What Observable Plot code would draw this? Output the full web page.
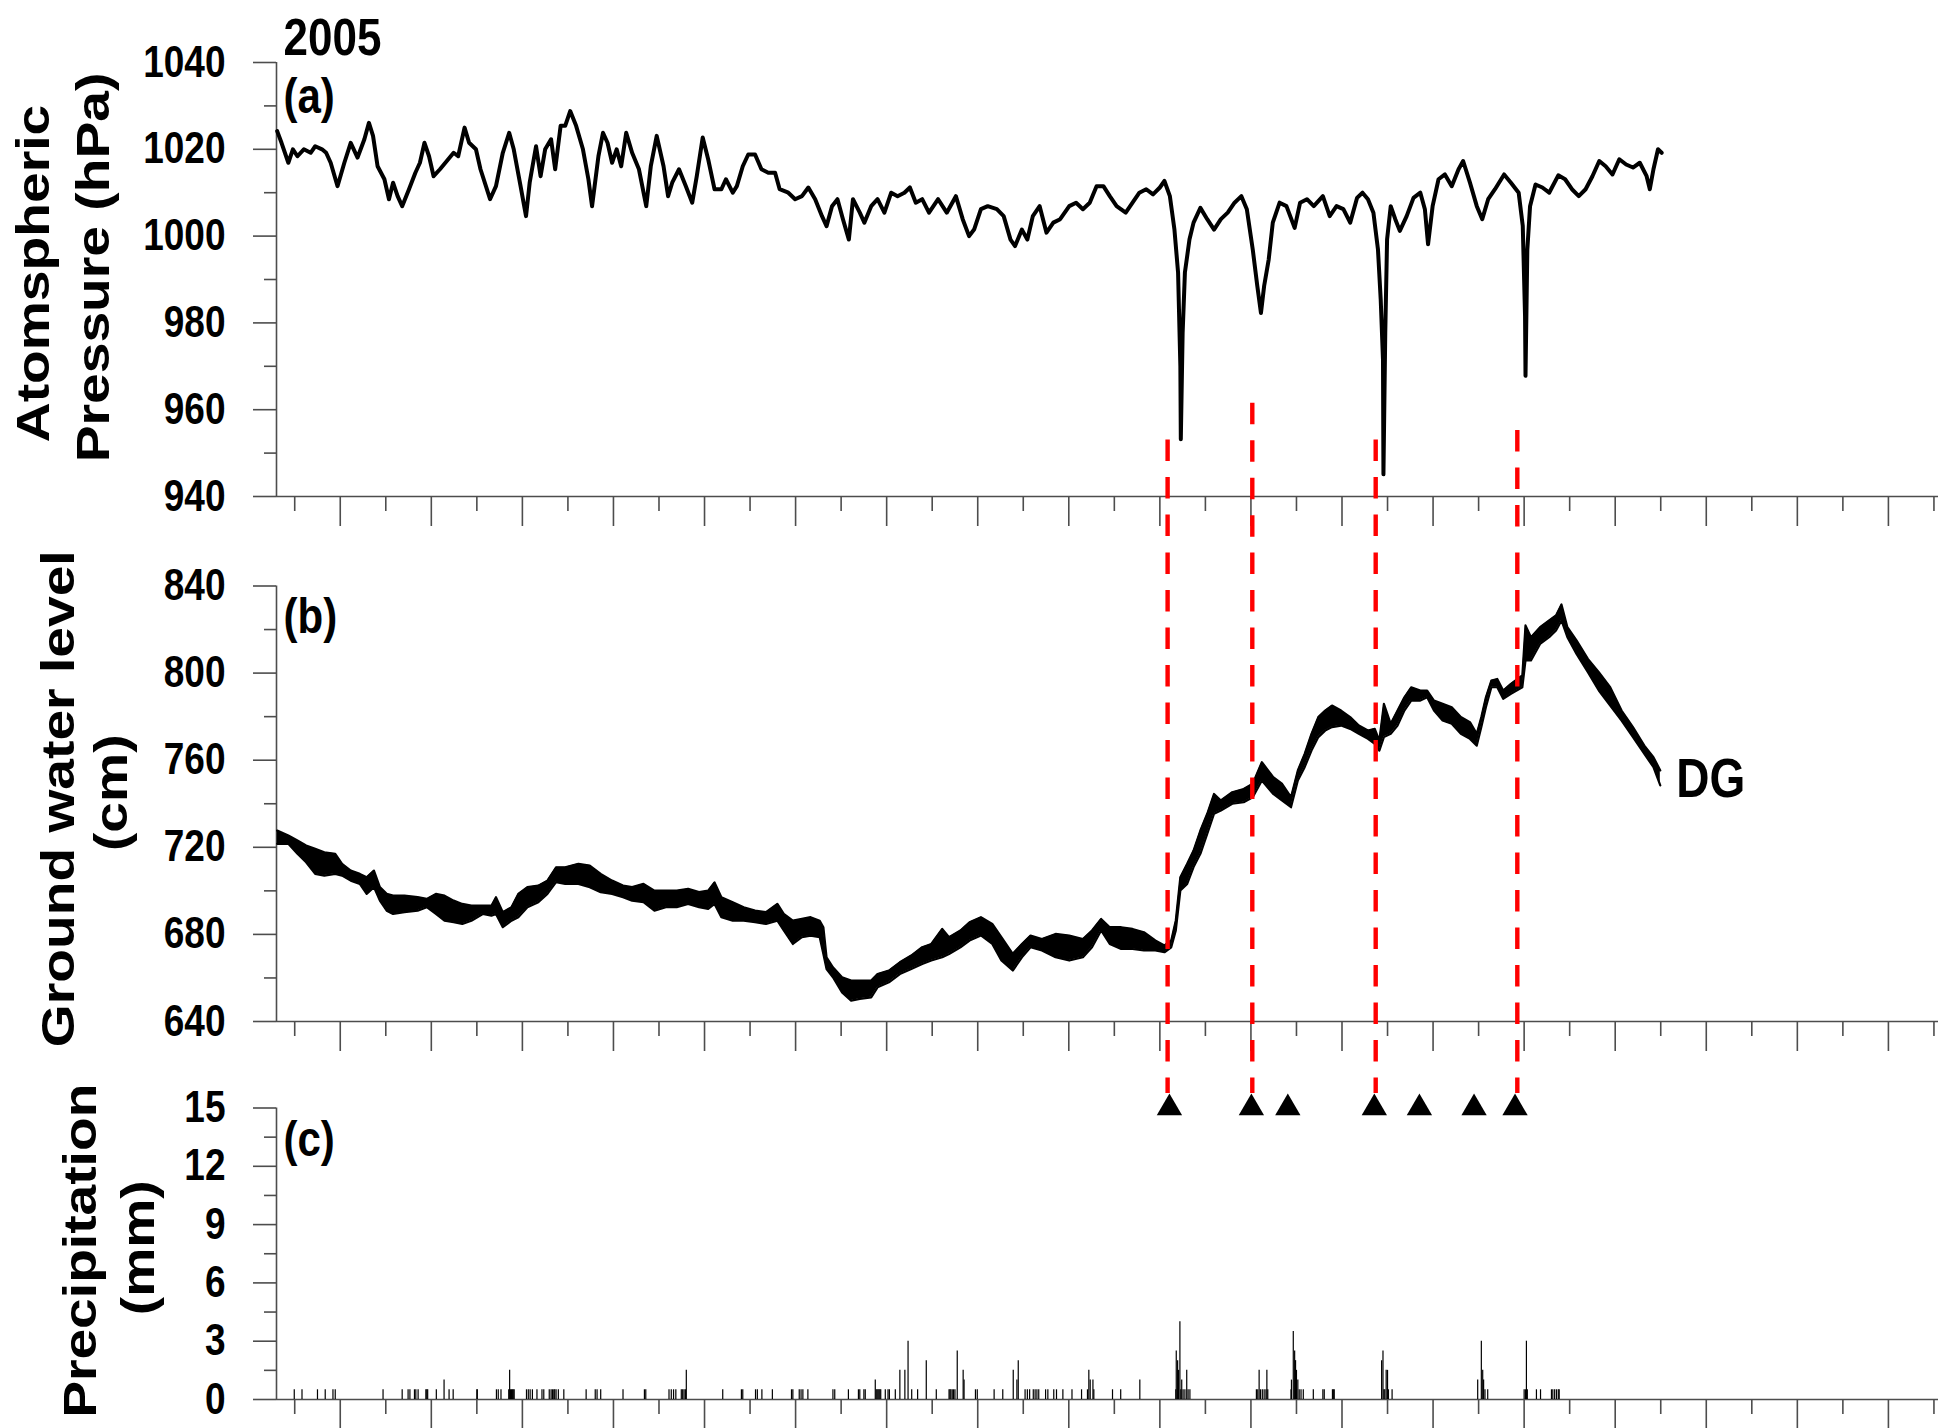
<!DOCTYPE html>
<html>
<head>
<meta charset="utf-8">
<script src="https://cdn.jsdelivr.net/npm/d3@7"></script>
<script src="https://cdn.jsdelivr.net/npm/@observablehq/plot@0.6"></script>
<style>
  html, body { margin: 0; padding: 0; background: #fff; overflow: hidden; }
  #chart { width: 1959px; height: 1428px; }
  #chart svg { display: block; }
</style>
</head>
<body>
<div id="chart"></div>
<script>
// ---------------- DATA (day of year 2005) ----------------
// (a) Atmospheric pressure, hPa
const pressureDay = [
  0.15, 1.1, 2.6, 3.6, 4.6, 6.0, 7.5, 8.5, 10.0, 10.9,
  11.9, 13.4, 14.9, 16.3, 17.8, 19.3, 20.3, 21.2, 22.2, 23.7,
  24.7, 25.6, 26.6, 27.6, 29.1, 30.5, 31.5, 32.5, 33.5, 34.5,
  35.9, 37.4, 38.9, 39.9, 41.3, 42.3, 43.8, 44.8, 46.2, 46.9,
  48.2, 49.7, 51.1, 52.1, 53.6, 54.8, 55.6, 57.0, 58.0, 59.0,
  60.3, 61.2, 62.4, 63.4, 64.5, 65.8, 67.3, 68.5, 69.3, 70.7,
  71.7, 72.7, 73.7, 74.7, 75.7, 76.8, 78.1, 79.6, 81.2, 82.2,
  83.5, 85.0, 86.0, 86.9, 88.4, 89.9, 91.3, 92.3, 93.6, 94.8,
  96.2, 97.7, 98.7, 100.2, 101.1, 102.4, 103.6, 105.1, 106.5, 108.0,
  109.5, 110.5, 112.4, 113.9, 115.4, 116.8, 118.3, 119.8, 120.8, 122.0,
  123.2, 124.4, 125.7, 126.6, 128.1, 129.1, 130.6, 132.0, 133.5, 135.0,
  136.4, 137.9, 139.1, 140.4, 141.8, 143.3, 145.3, 147.2, 149.2, 150.7,
  152.1, 153.2, 154.7, 156.2, 158.2, 159.7, 161.2, 162.2, 163.7, 164.9,
  166.1, 167.6, 169.1, 170.6, 172.1, 174.1, 175.6, 177.1, 178.6, 180.1,
  181.6, 183.0, 184.5, 186.5, 188.0, 189.5, 191.0, 192.5, 194.0, 195.0,
  196.2, 197.2, 198.0, 198.5, 198.6, 199.0, 199.5, 200.5, 201.4, 202.9,
  204.4, 205.9, 207.4, 208.9, 210.4, 211.9, 213.1, 214.4, 215.4, 216.2,
  216.9, 217.9, 218.8, 220.3, 221.8, 223.6, 224.8, 226.3, 227.8, 229.8,
  231.3, 232.8, 234.3, 235.8, 237.3, 238.5, 239.7, 240.9, 241.9, 242.5,
  243.0, 243.1, 243.5, 243.9, 244.7, 245.7, 246.7, 248.2, 249.7, 251.2,
  252.2, 252.9, 253.9, 255.2, 256.6, 258.1, 259.6, 260.6, 262.1, 263.6,
  264.8, 266.1, 267.6, 269.6, 271.1, 272.8, 273.7, 274.2, 274.3, 274.7,
  275.3, 276.5, 278.0, 279.5, 281.5, 283.0, 284.5, 286.0, 287.5, 289.0,
  290.5, 291.9, 293.4, 294.9, 296.4, 297.9, 299.4, 300.9, 301.6, 302.4,
  303.4, 304.2
];
const pressureHpa = [
  1024.2, 1021.5, 1016.9, 1020.0, 1018.4, 1020.0, 1019.2, 1020.7, 1020.0, 1019.2,
  1016.9, 1011.5, 1016.9, 1021.5, 1018.1, 1022.3, 1026.1, 1023.1, 1016.1, 1013.1,
  1008.5, 1012.3, 1009.2, 1006.9, 1010.8, 1014.6, 1016.9, 1021.5, 1018.4, 1013.8,
  1015.4, 1017.3, 1019.2, 1018.4, 1025.0, 1021.5, 1020.0, 1015.4, 1010.8, 1008.5,
  1011.5, 1019.2, 1023.8, 1020.0, 1011.5, 1004.6, 1012.3, 1020.7, 1013.8, 1020.0,
  1022.3, 1015.4, 1025.4, 1025.4, 1028.8, 1025.4, 1020.0, 1013.1, 1006.9, 1018.4,
  1023.8, 1021.5, 1016.9, 1020.0, 1016.1, 1023.8, 1019.2, 1015.4, 1006.9, 1016.1,
  1023.1, 1016.1, 1009.2, 1012.3, 1015.4, 1011.5, 1007.7, 1013.8, 1022.7, 1017.7,
  1010.8, 1010.8, 1013.1, 1010.0, 1011.5, 1016.1, 1018.8, 1018.8, 1015.4, 1014.6,
  1014.6, 1010.8, 1010.0, 1008.5, 1009.2, 1011.2, 1008.5, 1004.6, 1002.3, 1006.9,
  1008.5, 1003.9, 999.2, 1008.5, 1005.4, 1003.1, 1006.9, 1008.5, 1005.4, 1010.0,
  1009.2, 1010.0, 1011.2, 1007.7, 1008.5, 1005.4, 1008.5, 1005.4, 1009.2, 1003.9,
  1000.0, 1001.5, 1006.2, 1006.9, 1006.2, 1004.6, 999.2, 997.7, 1001.5, 999.2,
  1004.6, 1006.9, 1000.8, 1003.1, 1003.9, 1006.9, 1007.7, 1006.2, 1007.7, 1011.5,
  1011.5, 1009.2, 1006.9, 1005.4, 1007.7, 1010.0, 1010.8, 1009.6, 1011.2, 1012.7,
  1009.2, 1001.5, 991.6, 970.1, 953.2, 977.7, 991.6, 999.2, 1003.1, 1006.5,
  1003.9, 1001.5, 1003.9, 1005.4, 1007.7, 1009.2, 1006.2, 996.9, 988.5, 982.3,
  988.5, 994.6, 1003.1, 1007.7, 1006.9, 1001.9, 1007.7, 1008.5, 1006.9, 1009.2,
  1004.6, 1006.9, 1006.2, 1003.1, 1008.8, 1010.0, 1008.5, 1005.4, 996.9, 985.4,
  971.6, 945.1, 977.7, 999.2, 1006.9, 1003.9, 1001.2, 1004.6, 1008.8, 1010.0,
  1006.2, 998.1, 1006.9, 1013.1, 1014.2, 1011.5, 1015.4, 1017.3, 1012.3, 1006.9,
  1003.9, 1008.5, 1010.8, 1014.2, 1012.3, 1010.0, 1002.3, 981.6, 967.8, 996.9,
  1006.9, 1011.9, 1011.2, 1010.0, 1014.0, 1013.1, 1010.8, 1009.2, 1010.8, 1013.8,
  1017.3, 1016.1, 1014.2, 1017.7, 1016.5, 1015.8, 1016.9, 1013.8, 1010.8, 1015.4,
  1020.0, 1019.2
];

// (b) Ground water level (DG), cm — lower / upper envelope of the daily oscillation
const groundDay = [
  0.15, 2.6, 4.6, 6.5, 8.5, 10.5, 12.9, 14.4, 16.3, 18.3,
  19.8, 21.4, 22.7, 24.2, 25.6, 28.1, 31.0, 33.0, 35.0, 36.9,
  38.9, 40.8, 42.8, 45.3, 47.2, 48.2, 49.7, 51.6, 53.1, 55.1,
  57.5, 59.5, 61.4, 63.4, 66.3, 68.8, 71.2, 73.7, 76.1, 78.1,
  80.6, 83.0, 85.5, 87.9, 90.4, 92.8, 94.8, 96.2, 97.7, 100.2,
  102.6, 105.1, 107.5, 110.0, 111.4, 113.4, 115.4, 117.3, 119.3, 120.1,
  120.8, 122.2, 124.2, 126.2, 128.1, 130.6, 132.0, 134.5, 136.9, 139.4,
  141.8, 143.8, 146.2, 147.7, 150.2, 152.2, 154.7, 157.2, 159.2, 161.7,
  163.7, 165.6, 168.1, 171.1, 174.1, 177.1, 179.1, 181.1, 183.0, 185.5,
  188.0, 190.5, 193.0, 195.0, 196.5, 197.5, 198.5, 200.0, 201.4, 202.9,
  204.4, 205.9, 207.4, 209.9, 212.4, 214.4, 216.4, 218.9, 220.8, 222.8,
  224.3, 225.8, 227.3, 228.8, 230.3, 231.8, 233.8, 235.8, 237.7, 239.7,
  241.2, 242.2, 243.2, 244.7, 246.2, 247.7, 249.2, 251.2, 252.7, 254.2,
  256.1, 258.1, 260.1, 262.1, 263.6, 264.6, 265.6, 266.8, 268.1, 269.4,
  271.1, 273.6, 274.3, 275.5, 277.5, 279.5, 281.0, 282.2, 283.5, 285.5,
  288.0, 290.4, 292.9, 295.4, 297.9, 300.4, 302.4, 303.9
];
const groundLow = [
  721.6, 721.6, 717.0, 713.1, 707.8, 707.0, 707.8, 707.0, 704.7, 703.2,
  698.6, 701.7, 695.5, 690.9, 689.4, 690.2, 690.9, 692.5, 689.4, 686.3,
  685.6, 684.8, 686.3, 689.4, 688.6, 689.4, 683.3, 686.3, 687.9, 692.5,
  694.8, 698.6, 704.0, 703.2, 703.2, 701.7, 699.4, 698.6, 697.1, 695.5,
  694.8, 690.9, 692.5, 692.5, 694.0, 692.5, 691.7, 694.0, 687.9, 686.3,
  686.3, 685.6, 684.8, 686.3, 681.8, 675.6, 678.7, 679.4, 678.7, 671.0,
  664.1, 660.3, 653.4, 649.6, 650.4, 651.1, 655.7, 658.0, 661.8, 664.1,
  666.4, 668.0, 669.5, 671.0, 674.1, 677.2, 679.5, 675.6, 668.0, 663.4,
  669.5, 674.1, 672.6, 669.5, 668.0, 669.5, 674.1, 681.8, 675.6, 673.3,
  673.3, 672.6, 672.6, 671.8, 674.1, 681.8, 700.2, 703.2, 710.9, 717.0,
  726.2, 735.4, 736.9, 740.0, 740.7, 743.0, 750.7, 744.5, 741.5, 738.4,
  750.7, 756.8, 764.4, 770.6, 773.6, 775.2, 775.9, 774.4, 772.1, 769.8,
  767.5, 764.4, 770.6, 772.1, 775.9, 782.8, 787.4, 787.4, 788.9, 782.8,
  778.2, 776.7, 772.1, 769.8, 766.7, 775.2, 784.3, 793.5, 793.5, 788.2,
  790.5, 793.5, 805.8, 805.8, 813.4, 816.5, 819.6, 824.2, 816.5, 808.8,
  800.4, 792.0, 785.1, 778.2, 770.6, 762.9, 756.8, 748.4
];
const groundHigh = [
  727.7, 725.4, 723.1, 720.8, 719.3, 717.7, 717.0, 712.4, 709.3, 707.8,
  706.2, 709.3, 701.7, 698.6, 697.8, 697.8, 697.1, 696.3, 698.6, 697.8,
  695.5, 694.0, 693.2, 693.2, 693.2, 697.1, 690.2, 692.5, 698.6, 701.7,
  702.4, 704.7, 710.8, 710.8, 712.4, 711.6, 707.8, 704.7, 702.4, 701.7,
  703.2, 700.1, 700.1, 700.1, 700.9, 699.4, 700.1, 703.9, 697.1, 694.8,
  692.5, 690.9, 690.2, 694.0, 689.4, 686.3, 687.1, 687.9, 686.3, 683.3,
  669.5, 664.9, 660.3, 658.8, 658.8, 658.8, 661.8, 663.4, 667.2, 670.3,
  674.1, 675.6, 682.5, 678.7, 681.8, 685.6, 687.9, 684.8, 678.7, 671.1,
  675.6, 679.5, 677.9, 680.2, 679.5, 677.9, 681.8, 687.1, 683.3, 683.3,
  682.5, 681.0, 677.2, 674.9, 677.2, 686.4, 706.3, 712.4, 718.5, 727.7,
  735.4, 744.5, 741.5, 745.3, 746.8, 749.2, 759.1, 752.2, 749.2, 743.0,
  755.3, 762.9, 772.1, 779.8, 782.8, 785.1, 782.8, 779.8, 775.9, 773.6,
  774.4, 769.0, 785.9, 776.7, 782.8, 788.9, 793.5, 792.0, 792.0, 787.4,
  785.9, 784.3, 779.8, 777.5, 772.1, 779.8, 788.9, 796.6, 797.3, 792.0,
  795.1, 798.9, 821.9, 816.5, 821.1, 824.2, 826.5, 831.5, 821.1, 815.0,
  806.5, 800.4, 793.5, 782.8, 775.2, 766.7, 761.4, 755.3
];

// (c) Hourly precipitation, mm
const precipDay = [
  3.9, 5.6, 9.0, 10.7, 12.4, 12.9, 23.4, 27.6, 28.9, 29.3, 30.3, 30.6, 31.1, 32.8, 33.0, 33.2, 35.1, 36.8, 37.9, 38.8,
  44.0, 44.1, 48.3, 48.7, 49.3, 51.0, 51.2, 51.4, 51.6, 51.8, 52.0, 52.2, 54.9, 55.3, 55.7, 56.2, 57.2, 58.3, 58.7, 59.9,
  60.3, 60.6, 60.9, 61.1, 61.4, 61.9, 63.1, 68.0, 70.0, 70.4, 71.2, 76.1, 80.8, 81.1, 86.2, 86.7, 87.2, 87.7, 88.9, 89.2,
  89.5, 89.8, 90.0, 98.0, 102.1, 102.4, 105.2, 105.6, 106.6, 108.9, 113.1, 113.4, 114.8, 115.2, 115.6, 116.7, 122.2, 122.6, 125.6, 127.8,
  128.1, 129.0, 129.3, 131.5, 131.7, 131.9, 132.1, 132.3, 132.5, 132.7, 133.7, 134.3, 134.6, 135.9, 136.9, 138.0, 138.7, 139.5, 140.8, 142.7,
  144.9, 147.7, 147.9, 148.1, 148.4, 148.7, 149.0, 149.5, 150.8, 151.0, 153.5, 153.9, 157.6, 159.5, 161.8, 162.6, 162.9, 164.4, 164.9, 165.4,
  166.2, 166.6, 167.0, 167.4, 168.9, 169.4, 170.7, 171.3, 172.7, 174.7, 176.8, 178.1, 178.4, 178.7, 179.3, 179.5, 183.6, 185.4, 189.6,
  197.5, 197.6, 197.9, 198.1, 198.4, 198.6, 198.8, 199.1, 199.5, 199.9, 200.2, 200.6,
  215.2, 215.5, 215.8, 216.1, 216.5, 216.9, 217.3, 217.5, 217.7,
  222.8, 222.9, 223.3, 223.6, 223.8, 224.0, 224.3, 224.6, 225.0, 225.5, 227.7, 229.8, 230.1, 231.9, 232.1, 232.3,
  242.7, 243.0, 243.2, 243.4, 243.7, 244.0, 244.2, 245.0,
  263.8, 264.6, 264.9, 265.1, 265.4, 266.0, 274.0, 274.3, 274.5, 274.7, 276.7, 277.6, 280.0, 280.3, 280.7, 281.1, 281.5, 281.7
];
const precipMm = [
  0.5, 0.5, 0.5, 0.5, 0.5, 0.5, 0.5, 0.5, 0.5, 0.5, 0.5, 0.5, 0.5, 0.5, 0.5, 0.5, 0.5, 1.0, 0.5, 0.5,
  0.5, 0.5, 0.5, 0.5, 0.5, 0.5, 1.5, 0.5, 0.5, 0.5, 0.5, 0.5, 0.5, 0.5, 0.5, 0.5, 0.5, 0.5, 0.5, 0.5,
  0.5, 0.5, 0.5, 0.5, 0.5, 0.5, 0.5, 0.5, 0.5, 0.5, 0.5, 0.5, 0.5, 0.5, 0.5, 0.5, 0.5, 0.5, 0.5, 0.5,
  0.5, 0.5, 1.5, 0.5, 0.5, 0.5, 0.5, 0.5, 0.5, 0.5, 0.5, 0.5, 0.5, 0.5, 0.5, 0.5, 0.5, 0.5, 0.5, 0.5,
  0.5, 0.5, 0.5, 1.0, 0.5, 0.5, 0.5, 0.5, 0.5, 0.5, 0.5, 0.5, 0.5, 0.5, 1.5, 1.5, 3.0, 0.5, 0.5, 2.0,
  0.5, 0.5, 0.5, 0.5, 0.5, 0.5, 0.5, 2.5, 1.5, 1.0, 0.5, 0.5, 0.5, 0.5, 1.5, 1.0, 2.0, 0.5, 0.5, 0.5,
  0.5, 0.5, 0.5, 0.5, 0.5, 0.5, 0.5, 0.5, 0.5, 0.5, 0.5, 0.5, 1.5, 1.0, 1.0, 0.5, 0.5, 0.5, 1.0,
  0.5, 2.5, 2.0, 1.5, 4.0, 0.5, 1.0, 0.5, 0.5, 1.5, 0.5, 0.5,
  0.5, 0.5, 1.5, 0.5, 0.5, 0.5, 0.5, 1.5, 0.5,
  0.5, 1.0, 3.5, 2.5, 2.0, 1.5, 1.0, 0.5, 0.5, 0.5, 0.5, 0.5, 0.5, 0.5, 0.5, 0.5,
  2.0, 2.5, 0.5, 0.5, 1.5, 1.5, 0.5, 0.5,
  1.0, 3.0, 1.5, 1.0, 0.5, 0.5, 0.5, 0.5, 3.0, 0.5, 0.5, 0.5, 0.5, 0.5, 0.5, 0.5, 0.5, 0.5
];

// Event markers
const eventTriangleDay = [196.1, 214.1, 222.1, 241.1, 251.0, 263.0, 272.0];
const eventLineDay = [195.7, 214.3, 241.4, 272.5];
const eventLineTopHpa = [953.0, 961.5, 953.0, 955.2];

// Axis ticks
const xDomain = [0, 365];
const xTicksLong = d3.range(14, 360, 20);
const xTicksShort = d3.range(4, 366, 20);
const pressureTicks = [940, 960, 980, 1000, 1020, 1040];
const pressureMinor = [950, 970, 990, 1010, 1030];
const groundTicks = [640, 680, 720, 760, 800, 840];
const groundMinor = [660, 700, 740, 780, 820];
const precipTicks = [0, 3, 6, 9, 12, 15];
const precipMinor = [1.5, 4.5, 7.5, 10.5, 13.5];

// ---------------- RENDER ----------------
const pressure = pressureDay.map((d, i) => ({day: d, hPa: pressureHpa[i]}));
const ground = groundDay.map((d, i) => ({day: d, lo: groundLow[i], hi: groundHigh[i], mid: (groundLow[i] + groundHigh[i]) / 2}));
const precip = precipDay.map((d, i) => ({day: d, mm: precipMm[i]}));
const events = eventLineDay.map((d, i) => ({day: d, top: eventLineTopHpa[i]}));

const W = 1959;
const FONT = "Liberation Sans, Arial, Helvetica, sans-serif";
const AX = "#4d4d4d";
const AXW = 1.6;
const RED = "#ff0000";
const DASH = "21.5,16";
const KH = 1.19;   // vertical stretch of horizontal lettering
const KR = 1.2;    // stretch of rotated titles along their reading direction

const baseStyle = {background: "white", fontFamily: FONT, overflow: "visible"};

function xAxes() {
  return [
    Plot.axisX(xTicksLong, {tickSize: 30, fill: "none", label: null, stroke: AX, strokeWidth: AXW}),
    Plot.axisX(xTicksShort, {tickSize: 15, fill: "none", label: null, stroke: AX, strokeWidth: AXW})
  ];
}
function yAxes(major, minor) {
  return [
    Plot.axisY(major, {tickSize: 23, tickPadding: 28, label: null, stroke: AX, strokeWidth: AXW,
      tickFormat: d => String(d),
      fill: "black", fontSize: 37, fontWeight: "bold", fontFamily: FONT}),
    Plot.axisY(minor, {tickSize: 12, fill: "none", label: null, stroke: AX, strokeWidth: AXW})
  ];
}
function frameLines(yMin) {
  return [
    Plot.ruleX([xDomain[0]], {stroke: AX, strokeWidth: AXW}),
    Plot.ruleY([yMin], {stroke: AX, strokeWidth: AXW})
  ];
}
function yTitle(text, dx, dy) {
  return Plot.text([text], {text: d => d, frameAnchor: "left", dx, dy, rotate: -90,
    textAnchor: "middle", lineAnchor: "middle", fontSize: 46, fontWeight: "bold", fontFamily: FONT, fill: "black"});
}
function panelLabel(text, dy, size) {
  return Plot.text([text], {text: d => d, frameAnchor: "top-left", dx: 7, dy, textAnchor: "start",
    lineAnchor: "middle", fontSize: size, fontWeight: "bold", fontFamily: FONT, fill: "black"});
}

function stretchText(svg) {
  svg.querySelectorAll("text").forEach(t => {
    const tr = t.getAttribute("transform") || "";
    const rotated = /rotate/.test(tr);
    let pre = "";
    const xa = t.getAttribute("x"), ya = t.getAttribute("y");
    let tx = 0, ty = 0;
    if (xa && !/em$/.test(xa)) { tx = parseFloat(xa) || 0; t.removeAttribute("x"); }
    if (ya && !/em$/.test(ya)) { ty = parseFloat(ya) || 0; t.removeAttribute("y"); }
    if (tx || ty) pre = ` translate(${tx},${ty})`;
    const sc = rotated ? ` scale(${KR},1)` : ` scale(1,${KH})`;
    t.setAttribute("transform", (tr + pre + sc).trim());
  });
}
function mount(svg) {
  stretchText(svg);
  document.getElementById("chart").append(svg);
}

// Panel (a)
mount(Plot.plot({
  width: W, height: 540, marginTop: 62, marginBottom: 44, marginLeft: 276, marginRight: 21,
  style: baseStyle,
  x: {domain: xDomain},
  y: {domain: [940, 1040]},
  marks: [
    ...frameLines(940),
    ...xAxes(),
    ...yAxes(pressureTicks, pressureMinor),
    Plot.line(pressure, {x: "day", y: "hPa", stroke: "black", strokeWidth: 4, strokeLinejoin: "round"}),
    Plot.ruleX(events, {x: "day", y1: "top", y2: () => 940, insetBottom: -44,
      stroke: RED, strokeWidth: 4.4, strokeDasharray: DASH}),
    yTitle("Atomspheric", -242, -6),
    yTitle("Pressure (hPa)", -182, -12),
    panelLabel("2005", -24.5, 44),
    panelLabel("(a)", 34.5, 42)
  ]
}));

// Panel (b)
mount(Plot.plot({
  width: W, height: 520, marginTop: 45.5, marginBottom: 39, marginLeft: 276, marginRight: 21,
  style: baseStyle,
  x: {domain: xDomain},
  y: {domain: [640, 840]},
  marks: [
    ...frameLines(640),
    ...xAxes(),
    ...yAxes(groundTicks, groundMinor),
    Plot.areaY(ground, {x: "day", y1: "lo", y2: "hi", fill: "black"}),
    Plot.line(ground, {x: "day", y: "lo", stroke: "black", strokeWidth: 2.2}),
    Plot.line(ground, {x: "day", y: "hi", stroke: "black", strokeWidth: 2.2}),
    Plot.ruleX(events, {x: "day", insetTop: -45.5, insetBottom: -39,
      stroke: RED, strokeWidth: 4.4, strokeDasharray: DASH, strokeDashoffset: 25}),
    Plot.text([ground[ground.length - 1]], {x: "day", y: "mid", text: () => "DG", dx: 16, dy: 2,
      textAnchor: "start", lineAnchor: "middle", fontSize: 46, fontWeight: "bold", fontFamily: FONT, fill: "black"}),
    yTitle("Ground water level", -217, -5),
    yTitle("(cm)", -164, -11),
    panelLabel("(b)", 30.5, 42)
  ]
}));

// Panel (c)
mount(Plot.plot({
  width: W, height: 368, marginTop: 47.5, marginBottom: 29, marginLeft: 276, marginRight: 21,
  style: baseStyle,
  x: {domain: xDomain},
  y: {domain: [0, 15]},
  marks: [
    ...frameLines(0),
    ...xAxes(),
    ...yAxes(precipTicks, precipMinor),
    Plot.ruleX(precip, {x: "day", y: "mm", stroke: "black", strokeWidth: 1.2}),
    Plot.ruleX(events, {x: "day", insetTop: -47.5, insetBottom: 306,
      stroke: RED, strokeWidth: 4.4, strokeDasharray: DASH, strokeDashoffset: 20}),
    Plot.dot(eventTriangleDay, {x: d => d, frameAnchor: "top", symbol: "triangle", r: 9.4, fill: "black", stroke: "none"}),
    yTitle("Precipitation", -195, -3),
    yTitle("(mm)", -137, -6),
    panelLabel("(c)", 32, 42)
  ]
}));
</script>
</body>
</html>
